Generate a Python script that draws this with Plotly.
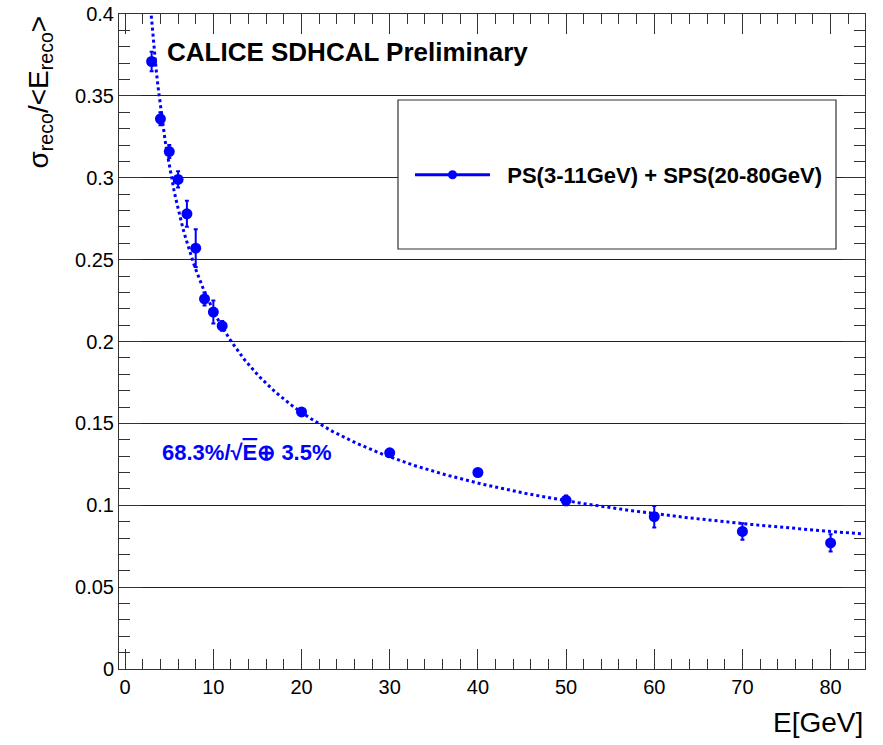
import numpy as np
import plotly.graph_objects as go

# Beam energies (GeV)
energy = [3, 4, 5, 6, 7, 8, 9, 10, 11, 20, 30, 40, 50, 60, 70, 80]
# Relative resolution sigma_reco / <E_reco>
resolution = [0.371, 0.336, 0.316, 0.299, 0.278, 0.257, 0.226, 0.218, 0.2095,
              0.157, 0.132, 0.120, 0.103, 0.093, 0.084, 0.077]
# Errors
res_err = [0.006, 0.004, 0.004, 0.005, 0.008, 0.0115, 0.004, 0.007, 0.003,
           0.002, 0.002, 0.002, 0.003, 0.0066, 0.005, 0.0053]

# Fit parameters: stochastic term and constant term
fit_stoch = 0.683
fit_const = 0.035
fit_emin, fit_emax = 2.9, 83.5

series_name = "\u00a0\u00a0PS(3-11GeV) + SPS(20-80GeV)"
fit_label = "68.3%/\u221a<span style='text-decoration:overline'>E</span>\u2295 3.5%"

BLUE = "#0000ff"
FONT = "Liberation Sans, Arial, Helvetica, sans-serif"

e_fit = np.linspace(fit_emin, fit_emax, 400)
r_fit = np.sqrt((fit_stoch / np.sqrt(e_fit)) ** 2 + fit_const ** 2)

fig = go.Figure()

fig.add_trace(go.Scatter(
    x=e_fit, y=r_fit, mode="lines",
    line=dict(color=BLUE, width=3, dash="dot"),
    showlegend=False, hoverinfo="skip",
))

fig.add_trace(go.Scatter(
    x=energy, y=resolution, mode="markers",
    marker=dict(color=BLUE, size=11, symbol="circle"),
    error_y=dict(type="data", array=res_err, color=BLUE, thickness=2, width=2),
    showlegend=False,
))

# legend entry (line + marker style like ROOT "LP")
fig.add_trace(go.Scatter(
    x=[None], y=[None], mode="lines+markers",
    line=dict(color=BLUE, width=3),
    marker=dict(color=BLUE, size=9),
    name=series_name, showlegend=True,
))

fig.update_layout(
    width=883, height=745,
    margin=dict(l=119, r=18, t=14, b=76, autoexpand=False),
    paper_bgcolor="white", plot_bgcolor="white",
    font=dict(family=FONT, color="black", size=20),
    showlegend=True,
    legend=dict(
        x=(410 - 119) / 746, xanchor="left",
        y=(669 - 175) / 655, yanchor="middle",
        bgcolor="rgba(0,0,0,0)", borderwidth=0,
        font=dict(family=FONT, size=22, color="black", weight="bold"),
        itemwidth=75,
    ),
    shapes=[dict(
        type="rect", xref="paper", yref="paper",
        x0=(398 - 119) / 746, x1=(836 - 119) / 746,
        y0=(669 - 249) / 655, y1=(669 - 100) / 655,
        line=dict(color="#333", width=1.2), fillcolor="white", layer="above",
    )],
    annotations=[
        dict(text="CALICE SDHCAL Preliminary", xref="paper", yref="paper",
             x=(165 - 119) / 746, y=(669 - 52) / 655, xanchor="left", yanchor="middle",
             showarrow=False, font=dict(family=FONT, size=26, color="black", weight="bold")),
        dict(text=fit_label, xref="paper", yref="paper",
             x=(160 - 119) / 746, y=(669 - 453) / 655, xanchor="left", yanchor="middle",
             showarrow=False, font=dict(family=FONT, size=22, color=BLUE, weight="bold")),
        dict(text="\u03c3<sub>reco</sub>/<E<sub>reco</sub>>", xref="paper", yref="paper",
             x=(40 - 119) / 746, y=(669 - 14) / 655, xanchor="center", yanchor="top",
             textangle=-90, showarrow=False, font=dict(family=FONT, size=28, color="black")),
        dict(text="E[GeV]", xref="paper", yref="paper",
             x=1.0, y=(669 - 722) / 655, xanchor="right", yanchor="middle",
             showarrow=False, font=dict(family=FONT, size=28, color="black")),
    ],
)

fig.update_xaxes(
    range=[-0.7, 83.9], tick0=0, dtick=10, automargin=False,
    ticks="inside", ticklen=20, tickwidth=1, tickcolor="#333",
    showline=True, linecolor="#333", linewidth=1, mirror="ticks",
    showgrid=False, zeroline=False,
    tickfont=dict(family=FONT, size=20, color="black"),
    minor=dict(dtick=2, ticks="inside", ticklen=10, tickcolor="#333", tickwidth=1, showgrid=False),
)
fig.update_yaxes(
    range=[0, 0.4], tick0=0, dtick=0.05, automargin=False,
    ticks="inside", ticklen=22, tickwidth=1, tickcolor="#333",
    showline=True, linecolor="#333", linewidth=1, mirror="ticks",
    showgrid=True, gridcolor="#222", gridwidth=1, zeroline=False,
    tickfont=dict(family=FONT, size=20, color="black"),
    minor=dict(dtick=0.01, ticks="inside", ticklen=11, tickcolor="#333", tickwidth=1, showgrid=False),
)

fig.write_html("out.html")
